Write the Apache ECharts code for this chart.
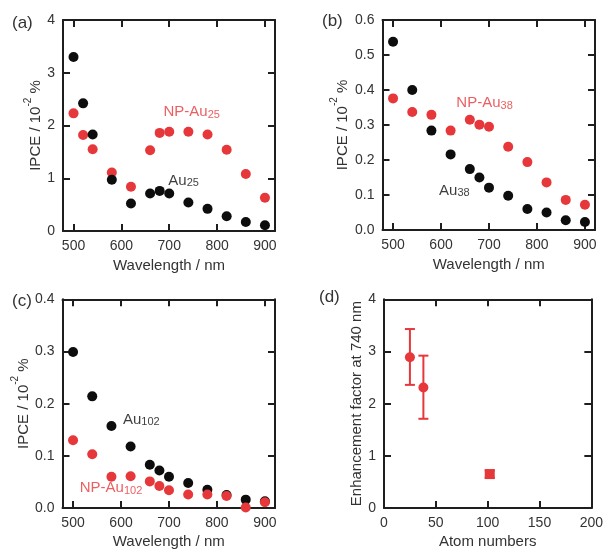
<!DOCTYPE html>
<html>
<head>
<meta charset="utf-8">
<script src="https://cdn.jsdelivr.net/npm/echarts@6/dist/echarts.min.js"></script>
<style>
html,body{margin:0;padding:0;background:#fff;}
#chart{width:606px;height:550px;}
</style>
</head>
<body>
<div id="chart"></div>
<script>
// ---------- data ----------
const wavelengthsA = [500, 520, 540, 580, 620, 660, 680, 700, 740, 780, 820, 860, 900];
const au25   = [3.30, 2.42, 1.83, 0.97, 0.52, 0.71, 0.76, 0.71, 0.54, 0.42, 0.28, 0.17, 0.11];
const npAu25 = [2.23, 1.82, 1.55, 1.11, 0.84, 1.53, 1.86, 1.88, 1.88, 1.83, 1.54, 1.08, 0.63];

const wavelengthsB = [500, 540, 580, 620, 660, 680, 700, 740, 780, 820, 860, 900];
const au38   = [0.538, 0.400, 0.284, 0.216, 0.174, 0.150, 0.121, 0.098, 0.060, 0.050, 0.028, 0.023];
const npAu38 = [0.376, 0.337, 0.329, 0.284, 0.315, 0.301, 0.295, 0.238, 0.194, 0.136, 0.086, 0.072];

const wavelengthsC = [500, 540, 580, 620, 660, 680, 700, 740, 780, 820, 860, 900];
const au102   = [0.299, 0.214, 0.157, 0.118, 0.083, 0.072, 0.060, 0.048, 0.035, 0.025, 0.016, 0.013];
const npAu102 = [0.130, 0.103, 0.060, 0.061, 0.051, 0.042, 0.034, 0.026, 0.026, 0.023, 0.001, 0.011];

const atomNumbers = [25, 38, 102];
const enhancement = [2.89, 2.31, 0.65];
const enhLow  = [2.36, 1.71, 0.58];
const enhHigh = [3.43, 2.92, 0.72];
const markerShapes = ['circle', 'circle', 'rect'];

const wavelengthTicks = [500, 600, 700, 800, 900];
const atomTicks = [0, 50, 100, 150, 200];

// annotation anchors (data coordinates) : [x, y, base, subscript, colour key]
const labelsA = [[688, 2.25, 'NP-Au', '25', 'red'], [698, 0.95, 'Au', '25', 'black']];
const labelsB = [[632, 0.362, 'NP-Au', '38', 'red'], [596, 0.112, 'Au', '38', 'black']];
const labelsC = [[604, 0.169, 'Au', '102', 'black'], [514, 0.038, 'NP-Au', '102', 'red']];

// ---------- styles ----------
const RED = '#e6373b';
const BLACK = '#0d0d0d';
const TXT = '#333333';
const FRAME = '#1e1e1e';
const FONT = '"Liberation Sans", Arial, Helvetica, sans-serif';

const grids = [
  {left: 63,  top: 20,  width: 212, height: 211},
  {left: 382.5, top: 20, width: 212.5, height: 210},
  {left: 62.5, top: 299.3, width: 212.5, height: 210},
  {left: 384, top: 299.3, width: 211, height: 210}
];

const lineStyle = {color: FRAME, width: 2};
const tickStyle = {color: FRAME, width: 2};

function zip(xs, ys) { return xs.map((x, i) => [x, ys[i]]); }

const xAxes = [], yAxes = [];
function addX(gi, min, max, ticks, name, gap) {
  xAxes.push({
    gridIndex: gi, type: 'value', min: min, max: max, position: 'bottom',
    name: name, nameLocation: 'middle', nameGap: gap,
    nameTextStyle: {fontSize: 15, color: TXT, fontFamily: FONT},
    axisLine: {show: true, onZero: false, lineStyle: lineStyle},
    axisTick: {show: true, inside: true, length: 7, lineStyle: tickStyle, customValues: ticks},
    axisLabel: {show: true, fontSize: 14, color: TXT, fontFamily: FONT, margin: 8, customValues: ticks},
    splitLine: {show: false}
  });
  xAxes.push({
    gridIndex: gi, type: 'value', min: min, max: max, position: 'top',
    axisLine: {show: true, onZero: false, lineStyle: lineStyle},
    axisTick: {show: true, inside: true, length: 7, lineStyle: tickStyle, customValues: ticks},
    axisLabel: {show: false, customValues: ticks},
    splitLine: {show: false}
  });
}
function addY(gi, min, max, interval, decimals, name, gap, rich) {
  const fmt = v => v.toFixed(decimals);
  yAxes.push({
    gridIndex: gi, type: 'value', min: min, max: max, interval: interval, position: 'left',
    name: name, nameLocation: 'middle', nameGap: gap, nameRotate: 90,
    nameTextStyle: rich ? {
      color: TXT, fontFamily: FONT,
      rich: {
        a: {fontSize: 15, color: TXT, fontFamily: FONT, lineHeight: 26},
        s: {fontSize: 10, color: TXT, fontFamily: FONT, lineHeight: 10, verticalAlign: 'top'}
      }
    } : {fontSize: 15, color: TXT, fontFamily: FONT},
    axisLine: {show: true, onZero: false, lineStyle: lineStyle},
    axisTick: {show: true, inside: true, length: 7, lineStyle: tickStyle},
    axisLabel: {show: true, fontSize: 14, color: TXT, fontFamily: FONT, margin: 8, formatter: fmt},
    splitLine: {show: false}
  });
  yAxes.push({
    gridIndex: gi, type: 'value', min: min, max: max, interval: interval, position: 'right',
    axisLine: {show: true, onZero: false, lineStyle: lineStyle},
    axisTick: {show: true, inside: true, length: 7, lineStyle: tickStyle},
    axisLabel: {show: false},
    splitLine: {show: false}
  });
}

const ipceName = '{a|IPCE / 10}{s|-2}{a| %}';
addX(0, 478, 921, wavelengthTicks, 'Wavelength / nm', 27);
addX(1, 478, 921, wavelengthTicks, 'Wavelength / nm', 27);
addX(2, 478, 921, wavelengthTicks, 'Wavelength / nm', 26);
addX(3, 0, 200, atomTicks, 'Atom numbers', 26);
addY(0, 0, 4, 1, 0, ipceName, 13, true);
addY(1, 0, 0.6, 0.1, 1, ipceName, 27, true);
addY(2, 0, 0.4, 0.1, 1, ipceName, 26, true);
addY(3, 0, 4, 1, 0, 'Enhancement factor at 740 nm', 15, false);

function scatter(gi, data, color, z) {
  return {
    type: 'scatter', xAxisIndex: gi * 2, yAxisIndex: gi * 2, data: data,
    symbol: 'circle', symbolSize: 10, itemStyle: {color: color, opacity: 1}, z: z,
    silent: true
  };
}
function labelSeries(gi, labels) {
  return {
    type: 'scatter', xAxisIndex: gi * 2, yAxisIndex: gi * 2, symbolSize: 0, z: 10, silent: true,
    data: labels.map(l => ({
      value: [l[0], l[1]],
      label: {
        show: true, position: 'inside', align: 'left', verticalAlign: 'middle',
        formatter: '{a|' + l[2] + '}{s|' + l[3] + '}',
        rich: {
          a: {fontSize: 15, fontFamily: FONT, color: l[4] === 'red' ? RED : BLACK, lineHeight: 16},
          s: {fontSize: 11, fontFamily: FONT, color: l[4] === 'red' ? RED : BLACK, lineHeight: 6, verticalAlign: 'bottom'}
        }
      }
    }))
  };
}

const series = [
  scatter(0, zip(wavelengthsA, npAu25), RED, 2),
  scatter(0, zip(wavelengthsA, au25), BLACK, 3),
  labelSeries(0, labelsA),
  scatter(1, zip(wavelengthsB, au38), BLACK, 2),
  scatter(1, zip(wavelengthsB, npAu38), RED, 3),
  labelSeries(1, labelsB),
  scatter(2, zip(wavelengthsC, au102), BLACK, 2),
  scatter(2, zip(wavelengthsC, npAu102), RED, 3),
  labelSeries(2, labelsC),
  {
    type: 'custom', xAxisIndex: 6, yAxisIndex: 6, z: 2, silent: true,
    data: atomNumbers.map((a, i) => [a, enhLow[i], enhHigh[i]]),
    encode: {x: 0, y: [1, 2]},
    renderItem: function (params, api) {
      const x = api.value(0);
      const p1 = api.coord([x, api.value(1)]);
      const p2 = api.coord([x, api.value(2)]);
      const w = 5;
      const st = {stroke: RED, lineWidth: 2};
      return {type: 'group', children: [
        {type: 'line', shape: {x1: p1[0], y1: p1[1], x2: p2[0], y2: p2[1]}, style: st},
        {type: 'line', shape: {x1: p1[0] - w, y1: p1[1], x2: p1[0] + w, y2: p1[1]}, style: st},
        {type: 'line', shape: {x1: p2[0] - w, y1: p2[1], x2: p2[0] + w, y2: p2[1]}, style: st}
      ]};
    }
  },
  {
    type: 'scatter', xAxisIndex: 6, yAxisIndex: 6, z: 3, silent: true,
    data: zip(atomNumbers, enhancement),
    symbol: (v, p) => markerShapes[p.dataIndex],
    symbolSize: 10,
    itemStyle: {color: RED, opacity: 1}
  }
];

const panelTitle = (t, left, top) => ({
  text: t, left: left, top: top, padding: 0,
  textStyle: {fontSize: 17, fontWeight: 'normal', color: TXT, fontFamily: FONT}
});

const chart = echarts.init(document.getElementById('chart'), null, {renderer: 'canvas'});
chart.setOption({
  animation: false,
  backgroundColor: '#ffffff',
  title: [
    panelTitle('(a)', 12, 15),
    panelTitle('(b)', 322, 13),
    panelTitle('(c)', 12, 293),
    panelTitle('(d)', 319, 289)
  ],
  grid: grids,
  xAxis: xAxes,
  yAxis: yAxes,
  series: series
});
</script>
</body>
</html>
